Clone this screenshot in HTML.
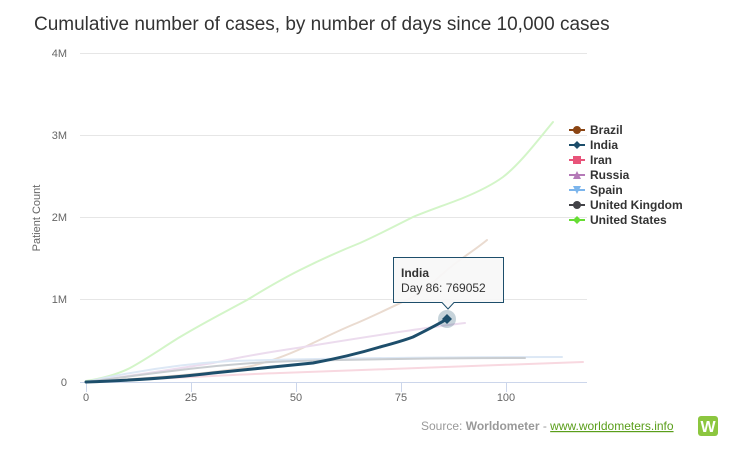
<!DOCTYPE html>
<html><head><meta charset="utf-8"><style>
body{margin:0;background:#fff;font-family:"Liberation Sans",sans-serif;}
svg text{font-family:"Liberation Sans",sans-serif;}
</style></head><body>
<svg width="738" height="453" viewBox="0 0 738 453" xmlns="http://www.w3.org/2000/svg">
<rect width="738" height="453" fill="#fff"/>
<text x="34" y="30" font-size="19" fill="#333">Cumulative number of cases, by number of days since 10,000 cases</text>
<g stroke="#e6e6e6" stroke-width="1">
<line x1="80" y1="53.5" x2="587" y2="53.5"/>
<line x1="80" y1="135.5" x2="587" y2="135.5"/>
<line x1="80" y1="217.5" x2="587" y2="217.5"/>
<line x1="80" y1="299.5" x2="587" y2="299.5"/>
</g>
<line x1="80" y1="382.5" x2="587" y2="382.5" stroke="#ccd6eb"/>
<g stroke="#ccd6eb"><line x1="86.5" y1="382" x2="86.5" y2="392"/><line x1="191.5" y1="382" x2="191.5" y2="392"/><line x1="296.5" y1="382" x2="296.5" y2="392"/><line x1="401.5" y1="382" x2="401.5" y2="392"/><line x1="506.5" y1="382" x2="506.5" y2="392"/></g>
<g font-size="11" fill="#666" text-anchor="middle">
<text x="86" y="401">0</text><text x="191" y="401">25</text><text x="296" y="401">50</text><text x="401" y="401">75</text><text x="506" y="401">100</text>
</g>
<g font-size="11" fill="#666" text-anchor="end">
<text x="67" y="57">4M</text><text x="67" y="139">3M</text><text x="67" y="221">2M</text><text x="67" y="303">1M</text><text x="67" y="386">0</text>
</g>
<text transform="translate(40,218) rotate(-90)" font-size="11" fill="#666" text-anchor="middle">Patient Count</text>
<g fill="none" stroke-width="2" stroke-linejoin="round" stroke-linecap="round">
<path d="M86,381 C105,378 118,374 130,368 C150,357 165,346 180,337 C205,322 225,312 247,300 C265,289 282,279 300,270 C320,260 340,251 360,243 C380,234 397,225 413,217 C430,210 448,204 463,198 C480,191 492,185 503,177 C520,164 538,140 553,122" stroke="#d3f5c8"/>
<path d="M86,382 C150,378 210,374 247,367 C270,362 293,353 313,343 C330,335 342,329 357,323 C380,313 398,304 413,297 C425,290 437,279 447,270 C460,259 475,250 487,240" stroke="#eadbd0"/>
<path d="M86,382 C130,376 175,369 213,363 C240,357 270,352 297,348 C360,338 420,328 465,323" stroke="#ecdcee"/>
<path d="M86,382 C130,372 180,364 230,361 C340,358 450,357 562,357" stroke="#dde8f5"/>
<path d="M86,382 C150,374 220,363 296,361 C380,359 460,358 525,358" stroke="#c9cdd1"/>
<path d="M86,382 C160,379 220,375 280,373 C380,369 480,366 583,362" stroke="#f8d8e0"/>
<path d="M86,382 C140,380 180,377 213,373 C250,369 285,366 313,363 C340,358 360,353 380,347 C395,343 405,340 413,337 C425,331 437,325 447,319" stroke="#1d4e6b" stroke-width="3"/>
</g>
<circle cx="447" cy="319" r="9" fill="#1d4e6b" fill-opacity="0.25"/>
<path d="M447,314 L452,319 L447,324 L442,319Z" fill="#1d4e6b"/>
<path d="M393.5,257.5 H503.5 V302.5 H454 L448,309 L442,302.5 H393.5 Z" fill="#f7f7f7" fill-opacity="0.92" stroke="#1d4e6b" stroke-width="1"/>
<text x="401" y="277" font-size="12" font-weight="bold" fill="#333">India</text>
<text x="401" y="292" font-size="12" fill="#333">Day 86: 769052</text>
<g font-size="12" font-weight="bold" fill="#333">
<line x1="569" y1="130" x2="585" y2="130" stroke="#8b4513" stroke-width="2"/><circle cx="577" cy="130" r="4" fill="#8b4513"/><text x="590" y="134">Brazil</text>
<line x1="569" y1="145" x2="585" y2="145" stroke="#1d4e6b" stroke-width="2"/><path d="M577,141 L581,145 L577,149 L573,145Z" fill="#1d4e6b"/><text x="590" y="149">India</text>
<line x1="569" y1="160" x2="585" y2="160" stroke="#e8547a" stroke-width="2"/><rect x="573" y="156" width="8" height="8" fill="#e8547a"/><text x="590" y="164">Iran</text>
<line x1="569" y1="175" x2="585" y2="175" stroke="#b57ab8" stroke-width="2"/><path d="M577,171 L581,179 L573,179Z" fill="#b57ab8"/><text x="590" y="179">Russia</text>
<line x1="569" y1="190" x2="585" y2="190" stroke="#7cb5ec" stroke-width="2"/><path d="M573,186 L581,186 L577,194Z" fill="#7cb5ec"/><text x="590" y="194">Spain</text>
<line x1="569" y1="205" x2="585" y2="205" stroke="#434348" stroke-width="2"/><circle cx="577" cy="205" r="4" fill="#434348"/><text x="590" y="209">United Kingdom</text>
<line x1="569" y1="220" x2="585" y2="220" stroke="#66dd33" stroke-width="2"/><path d="M577,216 L581,220 L577,224 L573,220Z" fill="#66dd33"/><text x="590" y="224">United States</text>
</g>
<text x="421" y="430" font-size="12" fill="#999">Source: <tspan font-weight="bold">Worldometer</tspan> - <tspan fill="#5a9e1a" text-decoration="underline">www.worldometers.info</tspan></text>
<rect x="698" y="416" width="20" height="20" rx="3" fill="#8cc63f"/>
<text x="708" y="432" font-size="16" font-weight="bold" fill="#fff" text-anchor="middle">W</text>
</svg>
</body></html>
